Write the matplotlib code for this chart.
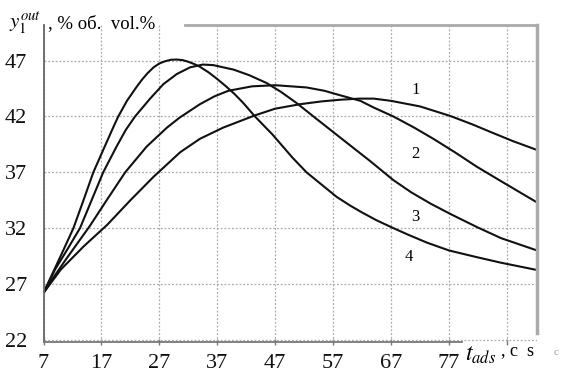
import matplotlib
matplotlib.use("Agg")
import matplotlib.pyplot as plt

# curve data (t_ads, y1_out)
x1 = [7, 10, 14, 18, 22, 26, 30.6, 34, 38, 43.5, 47, 51.3, 55, 58.2, 61.5, 64, 67, 72, 77.2, 81, 84.7, 88, 92.2]
y1 = [26.2, 28.3, 30.4, 32.3, 34.5, 36.6, 38.8, 40.0, 41.0, 42.1, 42.7, 43.1, 43.35, 43.5, 43.6, 43.6, 43.4, 42.9, 42.05, 41.3, 40.5, 39.8, 39.0]

x2 = [7, 9, 11, 13.9, 15, 17.9, 21.1, 24.8, 28.3, 30.5, 34, 36.5, 38.9, 43, 47, 52.4, 55.5, 58.2, 61.7, 64, 67.4, 71, 74.3, 78, 81.8, 86, 92.2]
y2 = [26.2, 27.8, 29.3, 31.4, 32.2, 34.5, 37.0, 39.3, 41.0, 41.9, 43.1, 43.8, 44.3, 44.7, 44.8, 44.6, 44.3, 43.9, 43.4, 42.8, 42.0, 41.0, 40.0, 38.8, 37.5, 36.2, 34.3]

x3 = [7, 9, 11, 13.3, 15.3, 17.3, 19.6, 21.2, 22.8, 25.4, 27.7, 30, 32.3, 34.5, 36.3, 39.8, 42.5, 45.5, 48, 50.7, 53.6, 58, 63.4, 67.4, 70.5, 73.8, 77.5, 81.8, 86, 92.2]
y3 = [26.2, 28.3, 30.0, 32.0, 34.5, 37.0, 39.3, 40.8, 42.0, 43.6, 44.9, 45.8, 46.4, 46.65, 46.6, 46.2, 45.7, 45.0, 44.2, 43.2, 42.0, 40.2, 38.0, 36.3, 35.2, 34.2, 33.2, 32.1, 31.1, 30.0]

x4 = [7, 8.7, 10.4, 12.16, 13.9, 15.6, 17.3, 19.1, 19.9, 21.4, 23, 24, 25, 26, 27, 28, 29, 30, 31, 32, 33, 34, 35.5, 37, 38.5, 40, 41.5, 43.5, 45, 46.5, 48, 50, 52.4, 55, 57.6, 60, 62, 64.5, 67.4, 70, 73.2, 77, 81.8, 86, 92.2]
y4 = [26.2, 28.1, 30.0, 32.0, 34.5, 37.0, 39.0, 41.1, 42.0, 43.4, 44.6, 45.3, 45.9, 46.4, 46.75, 46.95, 47.08, 47.1, 47.05, 46.9, 46.7, 46.45, 45.95, 45.35, 44.7, 44.0, 43.2, 42.0, 41.2, 40.4, 39.5, 38.3, 37.0, 35.9, 34.8, 34.0, 33.4, 32.7, 32.0, 31.4, 30.7, 30.0, 29.4, 28.9, 28.25]

curves = [(x1, y1, "1"), (x2, y2, "2"), (x3, y3, "3"), (x4, y4, "4")]
label_pos = {"1": (71.2, 44.4), "2": (71.2, 38.65), "3": (71.2, 33.0), "4": (70.0, 29.45)}

xticks = [7, 17, 27, 37, 47, 57, 67, 77, 87]
xtick_labels = ["7", "17", "27", "37", "47", "57", "67", "77", ""]
yticks = [22, 27, 32, 37, 42, 47]

plt.rcParams["font.family"] = ["Liberation Serif", "DejaVu Serif"]
plt.rcParams["mathtext.fontset"] = "stix"

fig = plt.figure(figsize=(5.75, 3.72), dpi=100)
ax = fig.add_axes([0.0757, 0.0806, 0.8583, 0.8524])

for x, y, name in curves:
    ax.plot(x, y, color="#111111", lw=1.5, solid_joinstyle="round")
    lx, ly = label_pos[name]
    ax.text(lx, ly, name, fontsize=12, ha="center", va="center",
            bbox=dict(facecolor="white", edgecolor="none", pad=1.5))

ax.set_xlim(7, 92.2)
ax.set_ylim(21.8, 50.2)
ax.set_xticks(xticks)
ax.set_xticklabels(xtick_labels)
ax.set_yticks(yticks)
ax.tick_params(axis="both", labelsize=16, colors="#111111")
ax.tick_params(axis="x", direction="inout", length=5, width=1, color="#777777", pad=6)
ax.tick_params(axis="y", length=0, pad=12)
ax.grid(True, color="#aaaaaa", linestyle=(0, (1.5, 1.5)), linewidth=0.9)

ax.spines["left"].set_color("#666666")
ax.spines["left"].set_linewidth(1.3)
ax.spines["bottom"].set_color("#777777")
ax.spines["bottom"].set_linewidth(1.3)
ax.spines["bottom"].set_bounds(7, 79.3)
ax.spines["top"].set_color("#aaaaaa")
ax.spines["top"].set_linewidth(2)
ax.spines["top"].set_bounds(31.4, 92.2)
ax.spines["right"].set_color("#aaaaaa")
ax.spines["right"].set_linewidth(2.5)
ax.spines["right"].set_bounds(22.6, 50.2)

fig.text(0.015, 0.925, r"$y_1^{out}$", fontsize=15, ha="left", va="baseline")
fig.text(0.083, 0.925, ", % об.  vol.%", fontsize=13.5, ha="left", va="baseline")
fig.text(0.808, 0.03, r"$t_{ads}$", fontsize=17, ha="left", va="baseline")
fig.text(0.872, 0.045, ", c  s", fontsize=13, ha="left", va="baseline")
fig.text(0.962, 0.045, "c", fontsize=8, color="#999999", ha="left", va="baseline")

fig.savefig("out.png", dpi=100)
